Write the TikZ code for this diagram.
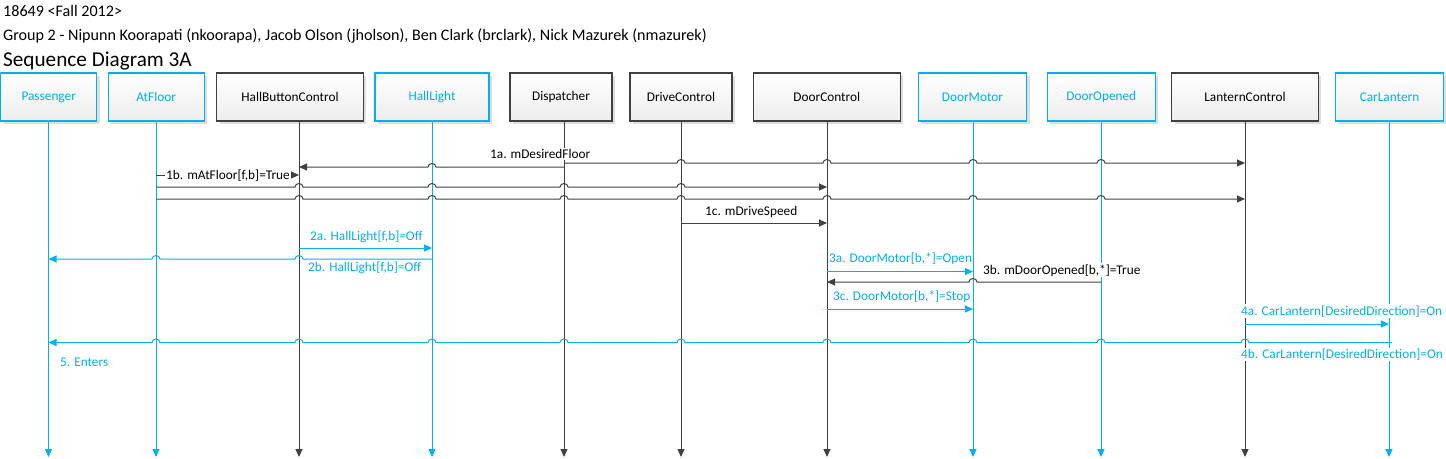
\documentclass[tikz,border=0pt]{standalone}
\usepackage{fontspec}
\setmainfont{Carlito}
\usetikzlibrary{arrows.meta,shadows,calc}
\definecolor{cblue}{HTML}{00B0F0}
\definecolor{cgray}{HTML}{404040}
\begin{document}
\begin{tikzpicture}[x=1pt,y=-1pt,
  font=\fontsize{13.3}{16}\selectfont,
  obj/.style={line width=1.1pt, minimum height=48pt, inner sep=0pt,
    top color=white, bottom color=black!7,
    drop shadow={shadow xshift=3pt, shadow yshift=-3pt, fill=black!13, opacity=1}},
  objB/.style={obj, draw=cblue, text=cblue},
  objK/.style={obj, draw=cgray, text=black},
  tip/.style={-{Triangle[length=8pt,width=7pt]}},
  lifeB/.style={draw=cblue, line width=1pt, tip},
  lifeK/.style={draw=cgray, line width=1pt, tip},
  msgB/.style={draw=cblue, line width=1pt, tip},
  msgK/.style={draw=cgray, line width=1pt, tip},
  lab/.style={fill=white, inner sep=1pt, anchor=base west, text=black},
  labB/.style={lab, text=cblue},
  head/.style={anchor=base west, inner sep=0pt, font=\fontsize{16.1}{19}\selectfont},
  hr/.style={start angle=180, end angle=0, x radius=4pt, y radius=3.5pt},
  hl/.style={start angle=0, end angle=180, x radius=4pt, y radius=3.5pt},
]
\useasboundingbox (0,0) rectangle (1446,458);

% header
\node[head] (h1) at (3,16.7) {18649 <Fall 2012>};
\node[head] (h2) at (3,40.7) {Group 2 - Nipunn Koorapati (nkoorapa), Jacob Olson (jholson), Ben Clark (brclark), Nick Mazurek (nmazurek)};
\node[head, font=\fontsize{21.2}{25}\selectfont] (h3) at (3,66.7) {Sequence Diagram 3A};

% objects
\node[objB, minimum width=96pt]    (pas) at (48.7,97)  {Passenger};
\node[objB, minimum width=95.7pt]  (atf) at (156.2,97) {AtFloor};
\node[objK, minimum width=146.6pt] (hbc) at (290,97)   {HallButtonControl};
\node[objB, minimum width=114pt]   (hlt) at (432,97)   {HallLight};
\node[objK, minimum width=102pt]   (dis) at (561,97)   {Dispatcher};
\node[objK, minimum width=102pt]   (drc) at (681,97)   {DriveControl};
\node[objK, minimum width=147pt]   (doc) at (826.8,97) {DoorControl};
\node[objB, minimum width=108.4pt] (dom) at (972.5,97) {DoorMotor};
\node[objB, minimum width=108pt]   (doo) at (1101.3,97) {DoorOpened};
\node[objK, minimum width=146.6pt] (lac) at (1245,97)  {LanternControl};
\node[objB, minimum width=107.6pt] (cal) at (1389.5,97) {CarLantern};

% lifeline tops
\coordinate (Lpas) at (48.5,121);
\coordinate (Lat)  at (156,121);
\coordinate (Lhbc) at (299,121);
\coordinate (Lhl)  at (432,121);
\coordinate (Ldis) at (564,121);
\coordinate (Ldrc) at (681,121);
\coordinate (Ldoc) at (827,121);
\coordinate (Ldom) at (973,121);
\coordinate (Ldoo) at (1101,121);
\coordinate (Llac) at (1245,121);
\coordinate (Lcal) at (1389,121);

% lifelines
\draw[lifeB] (Lpas) -- (Lpas |- 0,457);
\draw[lifeB] (Lat)  -- (Lat |- 0,457);
\draw[lifeK] (Lhbc) -- (Lhbc |- 0,457);
\draw[lifeB] (Lhl)  -- (Lhl |- 0,457);
\draw[lifeK] (Ldis) -- (Ldis |- 0,457);
\draw[lifeK] (Ldrc) -- (Ldrc |- 0,457);
\draw[lifeK] (Ldoc) -- (Ldoc |- 0,457);
\draw[lifeB] (Ldom) -- (Ldom |- 0,457);
\draw[lifeB] (Ldoo) -- (Ldoo |- 0,457);
\draw[lifeK] (Llac) -- (Llac |- 0,457);
\draw[lifeB] (Lcal) -- (Lcal |- 0,457);

% 1a
\draw[msgK] (Ldis |- 0,167) -- ($(Lhl |- 0,167)+(4,0)$) arc[hl] -- (Lhbc |- 0,167);
\draw[msgK] (Ldis |- 0,163)
  foreach \c in {Ldrc,Ldoc,Ldom,Ldoo} { -- ($(\c |- 0,163)+(-4,0)$) arc[hr] }
  -- (Llac |- 0,163);
% 1b
\draw[msgK] (Lat |- 0,175) -- (Lhbc |- 0,175);
\draw[msgK] (Lat |- 0,187)
  foreach \c in {Lhbc,Lhl,Ldis,Ldrc} { -- ($(\c |- 0,187)+(-4,0)$) arc[hr] }
  -- (Ldoc |- 0,187);
\draw[msgK] (Lat |- 0,199)
  foreach \c in {Lhbc,Lhl,Ldis,Ldrc,Ldoc,Ldom,Ldoo} { -- ($(\c |- 0,199)+(-4,0)$) arc[hr] }
  -- (Llac |- 0,199);
% 1c
\draw[msgK] (Ldrc |- 0,223) -- (Ldoc |- 0,223);
% 2a, 2b
\draw[msgB] (Lhbc |- 0,248) -- (Lhl |- 0,248);
\draw[msgB] (Lhl |- 0,259)
  foreach \c in {Lhbc,Lat} { -- ($(\c |- 0,259)+(4,0)$) arc[hl] }
  -- (Lpas |- 0,259);
% 3a, 3b, 3c
\draw[msgB] (Ldoc |- 0,271.5) -- (Ldom |- 0,271.5);
\draw[msgK] (Ldoo |- 0,282) -- ($(Ldom |- 0,282)+(4,0)$) arc[hl] -- (Ldoc |- 0,282);
\draw[msgB] (Ldoc |- 0,309) -- (Ldom |- 0,309);
% 4a, 4b
\draw[msgB] (Llac |- 0,324) -- (Lcal |- 0,324);
\draw[msgB] ($(Lcal |- 0,342.5)+(3,0)$)
  foreach \c in {Llac,Ldoo,Ldom,Ldoc,Ldrc,Ldis,Lhl,Lhbc,Lat} { -- ($(\c |- 0,342.5)+(4,0)$) arc[hl] }
  -- (Lpas |- 0,342.5);

% labels
\node[lab]  (t1a) at (489,158.7) {1a. mDesiredFloor};
\node[lab, anchor=west] (t1b) at (165,175.5) {1b. mAtFloor[f,b]=True};
\node[lab]  (t1c) at (704,215) {1c. mDriveSpeed};
\node[labB] (t2a) at (309,240) {2a. HallLight[f,b]=Off};
\node[labB] (t2b) at (307,271.7) {2b. HallLight[f,b]=Off};
\node[labB] (t3a) at (828,262.3) {3a. DoorMotor[b,*]=Open};
\node[lab]  (t3b) at (982,274) {3b. mDoorOpened[b,*]=True};
\node[labB] (t3c) at (832,300.7) {3c. DoorMotor[b,*]=Stop};
\node[labB] (t4a) at (1240,315) {4a. CarLantern[DesiredDirection]=On};
\node[labB] (t4b) at (1240,358.3) {4b. CarLantern[DesiredDirection]=On};
\node[labB, fill=none] (t5) at (59,366) {5. Enters};
\end{tikzpicture}
\end{document}
